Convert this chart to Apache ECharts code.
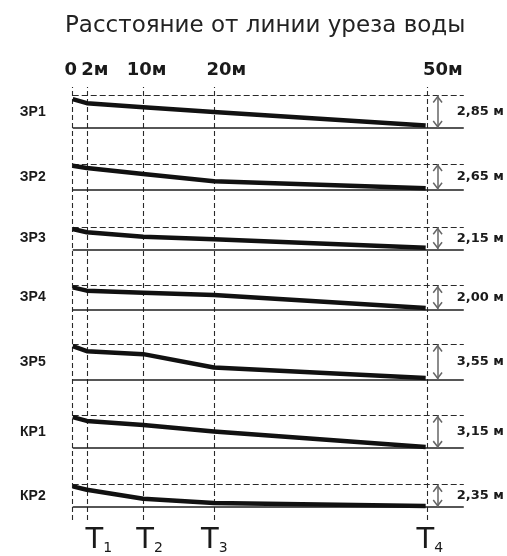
<!DOCTYPE html>
<html><head><meta charset="utf-8">
<script src="https://cdn.jsdelivr.net/npm/echarts@6/dist/echarts.min.js"></script>
<style>html,body{margin:0;padding:0;background:#fff}#c{width:507px;height:556px}</style>
</head><body><div id="c"></div>
<script>
// ---------- data ----------
const chartTitle = 'Расстояние от линии уреза воды';
const stations = [0, 2, 10, 20, 50];
const stationLabels = ['0', '2м', '10м', '20м', '50м'];
const pointStations = [2, 10, 20, 50];
const pointSubs = ['1', '2', '3', '4'];
const profileNames = ['ЗР1', 'ЗР2', 'ЗР3', 'ЗР4', 'ЗР5', 'КР1', 'КР2'];
const drops = [2.85, 2.65, 2.15, 2.00, 3.55, 3.15, 2.35];
const dropLabels = ['2,85 м', '2,65 м', '2,15 м', '2,00 м', '3,55 м', '3,15 м', '2,35 м'];
const ZR1 = [2.53, 2.18, 1.83, 1.40, 0.22];
const ZR2 = [2.47, 2.24, 1.62, 0.87, 0.15];
const ZR3 = [1.98, 1.66, 1.23, 0.98, 0.16];
const ZR4 = [1.86, 1.58, 1.41, 1.21, 0.10];
const ZR5 = [3.38, 2.87, 2.57, 1.22, 0.16];
const KR1 = [2.99, 2.63, 2.24, 1.61, 0.10];
const KR2 = [2.18, 1.82, 0.87, 0.42, 0.10];
const profiles = [ZR1, ZR2, ZR3, ZR4, ZR5, KR1, KR2];

// ---------- layout / style ----------
const LEFT = 72.7, RIGHT = 42, X_MAX = 55.4, ARROW_X = 51.7;
const gridTops = [95.5, 164, 227.3, 285.7, 344.5, 415.5, 484.7];
const gridHeights = [32.5, 25.7, 22, 23.6, 35, 32.6, 22.3];
const nameShiftUp = [2, 4, 4, 2, 7, 5, 1];
const topLabelShift = [-2, 8, 3, 12, 16];
const pointLabelShift = [12, 6, 0, 3];
const CHEV = 'path://M5,0 L5,0 M0,13 L5,7 L10,13 L8.8,14 L5,9.4 L1.2,14 Z';
const FONT = 'DejaVu Sans';

const grids = [{ left: LEFT, right: RIGHT, top: 87, bottom: 36 }];
const xAxes = [];
const yAxes = [{ gridIndex: 0, show: false, min: 0, max: 1 }];
const series = [];

const topRich = {};
stationLabels.forEach((l, i) => {
  const s = topLabelShift[i];
  topRich['s' + i] = {
    fontFamily: FONT, fontWeight: 'bold', fontSize: 18, color: '#1a1a1a',
    padding: s >= 0 ? [0, 0, 0, 2 * s] : [0, -2 * s, 0, 0]
  };
});
const botRich = {};
pointSubs.forEach((l, i) => {
  botRich['t' + i] = { fontFamily: FONT, fontSize: 29, color: '#1a1a1a', padding: [0, 0, 0, 2 * pointLabelShift[i]] };
});
botRich.s = { fontFamily: FONT, fontSize: 14, color: '#1a1a1a', verticalAlign: 'bottom' };

xAxes.push({
  gridIndex: 0, type: 'value', position: 'top', min: 0, max: X_MAX,
  axisLine: { show: false }, axisTick: { show: false }, splitLine: { show: false },
  axisLabel: {
    customValues: stations, margin: 8,
    formatter: v => { const i = stations.indexOf(v); return '{s' + i + '|' + stationLabels[i] + '}'; },
    rich: topRich
  }
});
xAxes.push({
  gridIndex: 0, type: 'value', position: 'bottom', min: 0, max: X_MAX,
  axisLine: { show: false }, axisTick: { show: false }, splitLine: { show: false },
  axisLabel: {
    customValues: pointStations, margin: 6,
    formatter: v => { const i = pointStations.indexOf(v); return '{t' + i + '|T}{s|' + pointSubs[i] + '}'; },
    rich: botRich
  }
});

series.push({
  type: 'line', xAxisIndex: 0, yAxisIndex: 0, data: [], silent: true,
  markLine: {
    silent: true, animation: false, symbol: ['none', 'none'], label: { show: false },
    lineStyle: { type: [5, 3], color: '#2a2a2a', width: 1.1 },
    data: stations.map(s => ({ xAxis: s }))
  }
});

profiles.forEach((p, i) => {
  grids.push({ left: LEFT, right: RIGHT, top: gridTops[i], height: gridHeights[i] });
  xAxes.push({ gridIndex: i + 1, type: 'value', min: 0, max: X_MAX, show: false });
  const common = {
    gridIndex: i + 1, type: 'value', min: 0, max: drops[i],
    axisLine: { show: false }, axisTick: { show: false }, axisLabel: { show: false }, splitLine: { show: false },
    nameLocation: 'middle', nameRotate: 0
  };
  yAxes.push(Object.assign({}, common, {
    position: 'left', name: profileNames[i], nameGap: 27,
    nameTextStyle: { fontFamily: 'Liberation Sans', fontWeight: 'bold', fontSize: 14, color: '#1a1a1a', padding: [0, 0, 2 * nameShiftUp[i], 0] }
  }));
  yAxes.push(Object.assign({}, common, {
    position: 'right', name: dropLabels[i], nameGap: -7,
    nameTextStyle: { fontFamily: FONT, fontWeight: 'bold', fontSize: 13, color: '#1a1a1a' }
  }));
  series.push({
    type: 'line', xAxisIndex: i + 2, yAxisIndex: 1 + 2 * i,
    data: stations.map((s, k) => [s, p[k]]),
    showSymbol: false, symbol: 'none', clip: false, z: 5,
    lineStyle: { width: 4.5, color: '#111', join: 'round' },
    markLine: {
      silent: true, animation: false, symbol: ['none', 'none'], label: { show: false },
      data: [
        { yAxis: drops[i], lineStyle: { type: [6, 3], color: '#2a2a2a', width: 1.1 } },
        { yAxis: 0, lineStyle: { type: 'solid', color: '#1e1e1e', width: 1.6 } },
        [
          { coord: [ARROW_X, 0], symbol: CHEV, symbolSize: [10, 15], lineStyle: { type: 'solid', color: '#666', width: 1.5 } },
          { coord: [ARROW_X, drops[i]], symbol: CHEV, symbolSize: [10, 15] }
        ]
      ]
    }
  });
});

const chart = echarts.init(document.getElementById('c'), null, { renderer: 'canvas' });
chart.setOption({
  animation: false,
  backgroundColor: '#fff',
  title: { text: chartTitle, left: 60, top: 10, textStyle: { fontFamily: FONT, fontSize: 23, fontWeight: 'normal', color: '#222' } },
  grid: grids, xAxis: xAxes, yAxis: yAxes, series: series
});
</script></body></html>
